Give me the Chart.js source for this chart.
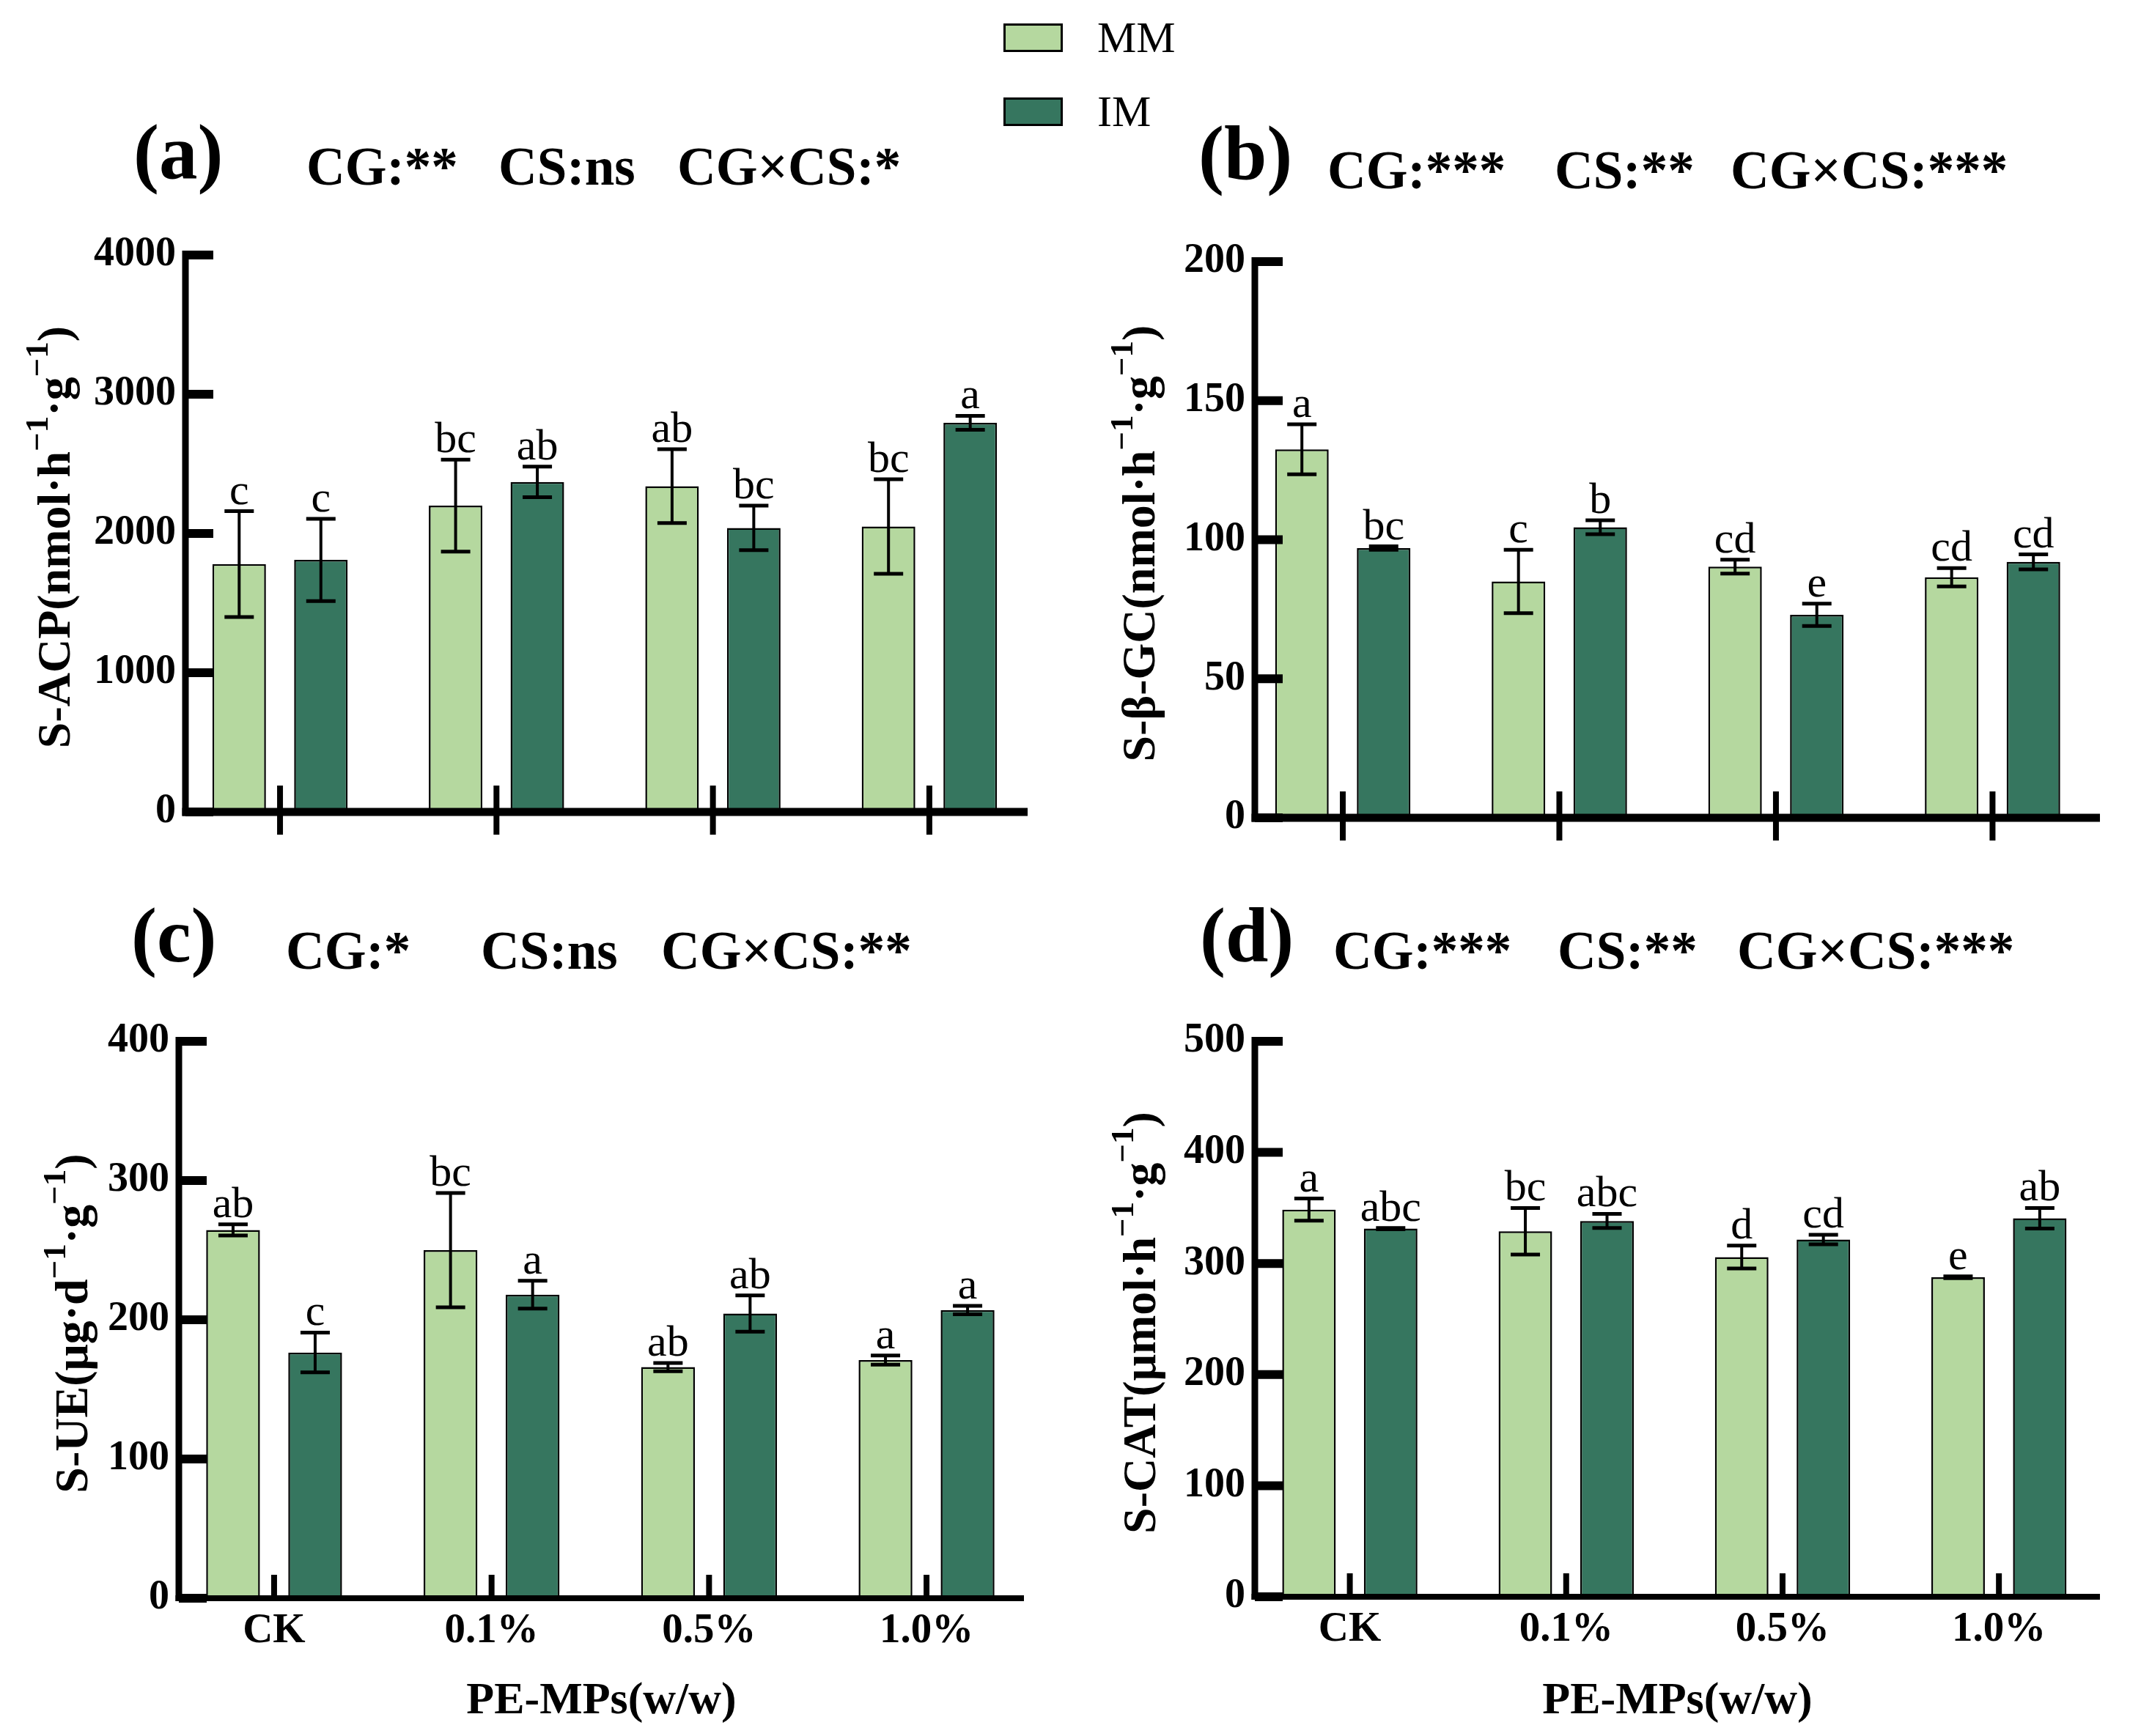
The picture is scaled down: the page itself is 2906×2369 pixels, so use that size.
<!DOCTYPE html>
<html>
<head>
<meta charset="utf-8">
<title>Soil enzyme activities</title>
<script src="https://cdn.jsdelivr.net/npm/chart.js@4.4.1/dist/chart.umd.min.js"></script>
<style>
  html, body { margin: 0; padding: 0; background: #fff; }
  #page { position: relative; width: 2906px; height: 2369px; overflow: hidden; background: #fff; }
  canvas { position: absolute; }
  .lg-box { position: absolute; width: 81px; height: 39px; box-sizing: border-box; border: 3px solid #000; }
  .lg-text { position: absolute; font: 60px 'Liberation Serif', 'Times New Roman', serif; line-height: 60px; color: #000; }
</style>
</head>
<body>
<div id="page">
  <div class="lg-box" style="left:1369px;top:32px;background:#b5d89f"></div>
  <div class="lg-text" style="left:1497px;top:21px">MM</div>
  <div class="lg-box" style="left:1369px;top:133px;background:#36765f"></div>
  <div class="lg-text" style="left:1497px;top:122px">IM</div>
  <canvas id="cA" width="1453" height="1184" style="left:0px;top:0px"></canvas>
  <canvas id="cB" width="1453" height="1184" style="left:1453px;top:0px"></canvas>
  <canvas id="cC" width="1453" height="1185" style="left:0px;top:1184px"></canvas>
  <canvas id="cD" width="1453" height="1185" style="left:1453px;top:1184px"></canvas>
</div>
<script>
// ---- data ----
const categories = ['CK', '0.1%', '0.5%', '1.0%'];
const seriesNames = ['MM', 'IM'];
const seriesColors = ['#b5d89f', '#36765f'];
const xTitle = 'PE-MPs(w/w)';

// (a) S-ACP
const acpMM = [1780, 2200, 2340, 2050];
const acpMMErr = [380, 330, 265, 340];
const acpIM = [1810, 2370, 2040, 2795];
const acpIMErr = [295, 110, 160, 50];
const acpMMLetters = ['c', 'bc', 'ab', 'bc'];
const acpIMLetters = ['c', 'ab', 'bc', 'a'];
const acpTicks = [0, 1000, 2000, 3000, 4000];
const acpStats = ['CG:**', 'CS:ns', 'CG×CS:*'];

// (b) S-β-GC
const bgcMM = [132.5, 85, 90.3, 86.5];
const bgcMMErr = [9, 11.4, 2.5, 3.3];
const bgcIM = [97, 104.5, 73, 92];
const bgcIMErr = [0.6, 2.5, 4, 2.7];
const bgcMMLetters = ['a', 'c', 'cd', 'cd'];
const bgcIMLetters = ['bc', 'b', 'e', 'cd'];
const bgcTicks = [0, 50, 100, 150, 200];
const bgcStats = ['CG:***', 'CS:**', 'CG×CS:***'];

// (c) S-UE
const ueMM = [264.5, 250, 166, 171];
const ueMMErr = [4, 41, 3, 3.3];
const ueIM = [176.5, 218, 204.5, 207];
const ueIMErr = [14.3, 10, 13, 3];
const ueMMLetters = ['ab', 'bc', 'ab', 'a'];
const ueIMLetters = ['c', 'a', 'ab', 'a'];
const ueTicks = [0, 100, 200, 300, 400];
const ueStats = ['CG:*', 'CS:ns', 'CG×CS:**'];

// (d) S-CAT
const catMM = [348.5, 329, 305.8, 287.6];
const catMMErr = [10, 21, 10.3, 0.8];
const catIM = [331.4, 338.3, 321.6, 340.7];
const catIMErr = [0.6, 6.4, 4.3, 9.3];
const catMMLetters = ['a', 'bc', 'd', 'e'];
const catIMLetters = ['abc', 'abc', 'cd', 'ab'];
const catTicks = [0, 100, 200, 300, 400, 500];
const catStats = ['CG:***', 'CS:**', 'CG×CS:***'];

// y axis titles, split so the exponents can be raised
const acpTitle = [['S-ACP(nmol·h', 0], ['−1', 1], ['·g', 0], ['−1', 1], [')', 0]];
const bgcTitle = [['S-β-GC(nmol·h', 0], ['−1', 1], ['·g', 0], ['−1', 1], [')', 0]];
const ueTitle = [['S-UE(μg·d', 0], ['−1', 1], ['·g', 0], ['−1', 1], [')', 0]];
const catTitle = [['S-CAT(μmol·h', 0], ['−1', 1], ['·g', 0], ['−1', 1], [')', 0]];

const FONT = "'Liberation Serif', 'Times New Roman', serif";

// ---- layout (page pixels) ----
const panels = [
  { id: 'cA', box: [0, 0, 1453, 1184], area: [253, 348, 1402, 1108], xr: [-0.437, 3.454],
    mm: acpMM, mmErr: acpMMErr, im: acpIM, imErr: acpIMErr, mmL: acpMMLetters, imL: acpIMLetters,
    ticks: acpTicks, stats: acpStats, title: acpTitle,
    tag: '(a)', tagPos: [182, 243], statX: [418, 680, 924], statY: 252, yTitleX: 95,
    showX: false, xAxisW: 11, xTickUp: 36, xTickDown: 31 },
  { id: 'cB', box: [1453, 0, 1453, 1184], area: [1712, 357, 2865, 1116], xr: [-0.406, 3.496],
    mm: bgcMM, mmErr: bgcMMErr, im: bgcIM, imErr: bgcIMErr, mmL: bgcMMLetters, imL: bgcIMLetters,
    ticks: bgcTicks, stats: bgcStats, title: bgcTitle,
    tag: '(b)', tagPos: [1635, 245], statX: [1811, 2121, 2361], statY: 257, yTitleX: 1575,
    showX: false, xAxisW: 11, xTickUp: 36, xTickDown: 31 },
  { id: 'cC', box: [0, 1184, 1453, 1185], area: [244, 1421, 1397, 2181], xr: [-0.438, 3.448],
    mm: ueMM, mmErr: ueMMErr, im: ueIM, imErr: ueIMErr, mmL: ueMMLetters, imL: ueIMLetters,
    ticks: ueTicks, stats: ueStats, title: ueTitle,
    tag: '(c)', tagPos: [179, 1312], statX: [390, 656, 902], statY: 1322, yTitleX: 119,
    showX: true, xAxisW: 8, xTickUp: 32, xTickDown: 0, xTitleY: 2338 },
  { id: 'cD', box: [1453, 1184, 1453, 1185], area: [1712, 1421, 2865, 2179], xr: [-0.439, 3.467],
    mm: catMM, mmErr: catMMErr, im: catIM, imErr: catIMErr, mmL: catMMLetters, imL: catIMLetters,
    ticks: catTicks, stats: catStats, title: catTitle,
    tag: '(d)', tagPos: [1637, 1312], statX: [1819, 2125, 2370], statY: 1322, yTitleX: 1576,
    showX: true, xAxisW: 8, xTickUp: 32, xTickDown: 0, xTitleY: 2338 }
];

function drawRotatedTitle(ctx, parts, x, y, size) {
  const main = 'bold ' + size + 'px ' + FONT;
  const sup = 'bold ' + Math.round(size * 0.7) + 'px ' + FONT;
  ctx.save();
  ctx.translate(x, y);
  ctx.rotate(-Math.PI / 2);
  ctx.textAlign = 'left';
  ctx.textBaseline = 'alphabetic';
  let total = 0;
  parts.forEach(pt => { ctx.font = pt[1] ? sup : main; total += ctx.measureText(pt[0]).width; });
  let cx = -total / 2;
  parts.forEach(pt => {
    ctx.font = pt[1] ? sup : main;
    ctx.fillText(pt[0], cx, pt[1] ? -size * 0.47 : 0);
    cx += ctx.measureText(pt[0]).width;
  });
  ctx.restore();
}

function decoPlugin(p) {
  return {
    id: 'deco',
    afterDatasetsDraw(chart) {
      const ctx = chart.ctx;
      const xs = chart.scales.x, ys = chart.scales.y;
      const ox = p.box[0], oy = p.box[1];
      const L = chart.chartArea.left, R = chart.chartArea.right;
      const B = ys.getPixelForValue(0);
      const T = ys.getPixelForValue(p.ticks[p.ticks.length - 1]);
      ctx.save();
      ctx.fillStyle = '#000';
      ctx.strokeStyle = '#000';
      ctx.lineCap = 'butt';

      // error bars and significance letters
      chart.data.datasets.forEach((ds, di) => {
        const meta = chart.getDatasetMeta(di);
        meta.data.forEach((bar, j) => {
          const v = ds.data[j].y, e = ds.errors[j];
          const yt = ys.getPixelForValue(v + e), yb = ys.getPixelForValue(v - e);
          ctx.lineWidth = 4;
          ctx.beginPath();
          ctx.moveTo(bar.x, yt); ctx.lineTo(bar.x, yb);
          ctx.stroke();
          ctx.lineWidth = 5;
          ctx.beginPath();
          ctx.moveTo(bar.x - 20, yt); ctx.lineTo(bar.x + 20, yt);
          ctx.moveTo(bar.x - 20, yb); ctx.lineTo(bar.x + 20, yb);
          ctx.stroke();
          ctx.font = '60px ' + FONT;
          ctx.textAlign = 'center';
          ctx.textBaseline = 'alphabetic';
          ctx.fillText(ds.letters[j], bar.x, yt - 10);
        });
      });

      // axes
      ctx.lineWidth = 9;
      ctx.beginPath();
      ctx.moveTo(L, T - 6); ctx.lineTo(L, B + p.xAxisW / 2);
      ctx.stroke();
      ctx.lineWidth = p.xAxisW;
      ctx.beginPath();
      ctx.moveTo(L - 4.5, B); ctx.lineTo(R, B);
      ctx.stroke();
      ctx.lineWidth = 12;
      ys.ticks.forEach(t => {
        const y = ys.getPixelForValue(t.value);
        ctx.beginPath(); ctx.moveTo(L, y); ctx.lineTo(L + 38, y); ctx.stroke();
      });
      ctx.lineWidth = 8;
      xs.ticks.forEach(t => {
        const x = xs.getPixelForValue(t.value);
        ctx.beginPath(); ctx.moveTo(x, B - p.xTickUp); ctx.lineTo(x, B + p.xTickDown); ctx.stroke();
      });

      // panel tag and statistics
      ctx.textAlign = 'left';
      ctx.textBaseline = 'alphabetic';
      ctx.font = 'bold 105px ' + FONT;
      ctx.fillText(p.tag, p.tagPos[0] - ox, p.tagPos[1] - oy);
      ctx.font = 'bold 73px ' + FONT;
      p.stats.forEach((s, i) => ctx.fillText(s, p.statX[i] - ox, p.statY - oy));

      // axis titles
      drawRotatedTitle(ctx, p.title, p.yTitleX - ox, (T + B) / 2 + 5, 64);
      if (p.showX) {
        ctx.font = 'bold 62px ' + FONT;
        ctx.textAlign = 'center';
        ctx.fillText(xTitle, (L + R) / 2, p.xTitleY - oy);
      }
      ctx.restore();
    }
  };
}

function makeChart(p) {
  const yw = p.area[0] - p.box[0];
  const padTop = p.area[1] - p.box[1];
  const padRight = p.box[0] + p.box[2] - p.area[2];
  const xh = p.box[1] + p.box[3] - p.area[3];
  const values = [p.mm, p.im], errs = [p.mmErr, p.imErr], lets = [p.mmL, p.imL];

  new Chart(document.getElementById(p.id).getContext('2d'), {
    type: 'bar',
    data: {
      datasets: seriesNames.map((name, k) => ({
        label: name,
        data: values[k].map((v, i) => ({ x: i, y: v })),
        errors: errs[k],
        letters: lets[k],
        backgroundColor: seriesColors[k],
        borderColor: '#000',
        borderWidth: 2.5,
        categoryPercentage: 0.755,
        barPercentage: 0.655
      }))
    },
    options: {
      responsive: false,
      maintainAspectRatio: false,
      devicePixelRatio: 1,
      animation: false,
      layout: { padding: { left: 0, top: padTop, right: padRight, bottom: 0 } },
      plugins: { legend: { display: false }, tooltip: { enabled: false } },
      scales: {
        x: {
          type: 'linear',
          min: p.xr[0],
          max: p.xr[1],
          offset: false,
          afterBuildTicks: s => { s.ticks = categories.map((c, i) => ({ value: i })); },
          afterFit: s => { s.height = xh; },
          grid: { display: false, drawTicks: false },
          border: { display: false },
          ticks: {
            display: p.showX,
            autoSkip: false,
            maxRotation: 0,
            color: '#000',
            padding: 11,
            font: { family: FONT, size: 57, weight: 'bold' },
            callback: v => categories[v]
          }
        },
        y: {
          min: 0,
          max: p.ticks[p.ticks.length - 1],
          afterBuildTicks: s => { s.ticks = p.ticks.map(v => ({ value: v })); },
          afterFit: s => { s.width = yw; },
          grid: { display: false, drawTicks: false },
          border: { display: false },
          ticks: {
            color: '#000',
            padding: 13,
            font: { family: FONT, size: 56, weight: 'bold' },
            callback: v => String(v)
          }
        }
      }
    },
    plugins: [decoPlugin(p)]
  });
}

panels.forEach(makeChart);
</script>
</body>
</html>
